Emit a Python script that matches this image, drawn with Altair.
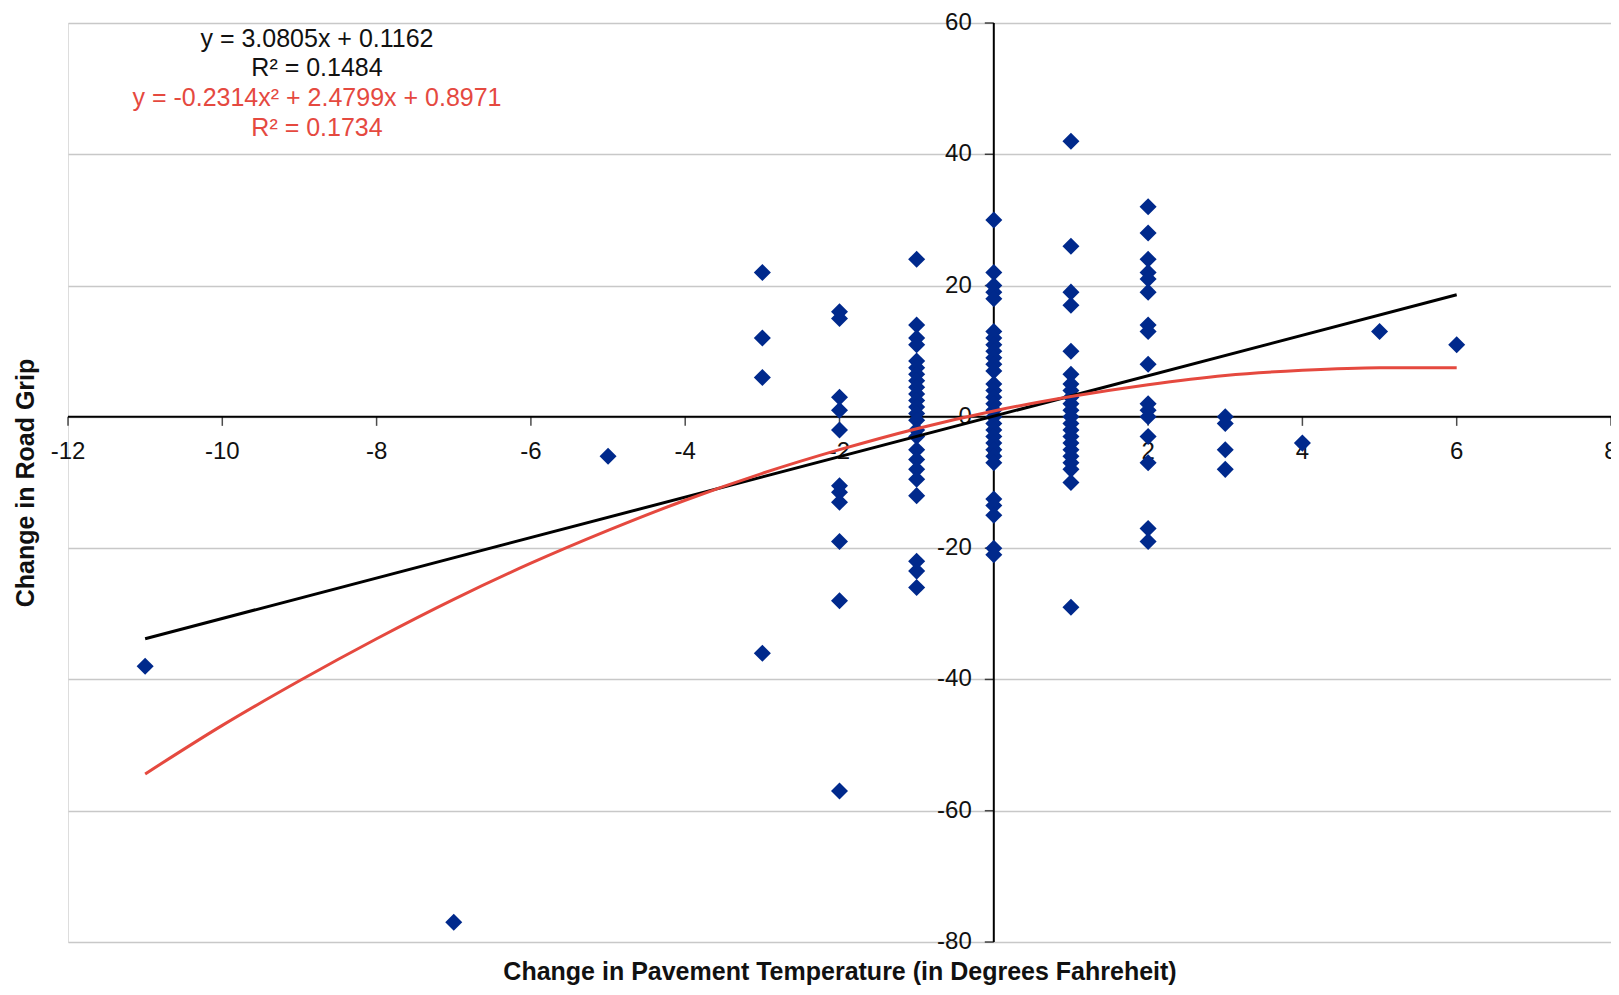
import altair as alt
import pandas as pd

# ---- scatter data, one list per temperature change ----
col_m11 = [-38]
col_m7 = [-77]
col_m5 = [-6]
col_m3 = [22, 12, 6, -36]
col_m2 = [16, 15, 3, 1, -2, -10.5, -11.5, -13, -19, -28, -57]
col_m1 = [24, 14, 12, 11, 8.5, 7.5, 6.5, 5.5, 4.5, 3.5, 2.5, 1.5, 0.5, -0.5, -2, -3,
          -5, -6.5, -8, -9.5, -12, -22, -23.5, -26]
col_0 = [30, 22, 20, 19, 18, 13, 12, 11, 10, 9, 8, 7, 5, 4, 3, 2, 1, 0, -1, -2, -3,
         -4, -5, -6, -7, -12.5, -13.5, -15, -20, -21]
col_1 = [42, 26, 19, 17, 10, 6.5, 5, 4, 3, 2, 1, 0, -1, -2, -3, -4, -5, -6, -7, -8,
         -10, -29]
col_2 = [32, 28, 24, 22, 21, 19, 14, 13, 8, 2, 1, 0, -3, -7, -17, -19]
col_3 = [0, -1, -5, -8]
col_4 = [-4]
col_5 = [13]
col_6 = [11]

columns = {-11: col_m11, -7: col_m7, -5: col_m5, -3: col_m3, -2: col_m2, -1: col_m1,
           0: col_0, 1: col_1, 2: col_2, 3: col_3, 4: col_4, 5: col_5, 6: col_6}

# ---- trend lines ----
lin_x = [-11, 6]
lin_y = [-33.8, 18.6]
poly_x = [-11, -10, -9, -8, -7, -6, -5, -4, -3, -2, -1, 0, 1, 2, 3, 4, 5, 6]
poly_y = [-54.4, -47.0, -40.2, -33.8, -27.8, -22.3, -17.3, -12.7, -8.6, -5.0, -1.8,
          0.9, 3.1, 4.9, 6.3, 7.1, 7.5, 7.5]

# ---- axis ticks ----
x_ticks = [-12, -10, -8, -6, -4, -2, 0, 2, 4, 6, 8]
y_ticks = [-80, -60, -40, -20, 0, 20, 40, 60]

eq_lines = ["y = 3.0805x + 0.1162", "R² = 0.1484",
            "y = -0.2314x² + 2.4799x + 0.8971", "R² = 0.1734"]

pts = pd.DataFrame([(k, v) for k, vals in columns.items() for v in vals], columns=["x", "y"])
lin = pd.DataFrame({"x": lin_x, "y": lin_y})
poly = pd.DataFrame({"x": poly_x, "y": poly_y})
xt = pd.DataFrame({"x": x_ticks, "y": [0] * len(x_ticks), "t": [str(v) for v in x_ticks]})
yt = pd.DataFrame({"x": [0] * len(y_ticks), "y": y_ticks, "t": [str(v) for v in y_ticks]})
zero = pd.DataFrame({"x": [0], "y": [0]})

FONT = "Liberation Sans"
xs = alt.Scale(domain=[-12, 8], nice=False, zero=False)
ys = alt.Scale(domain=[-80, 60], nice=False, zero=False)

xaxis = alt.Axis(title="Change in Pavement Temperature (in Degrees Fahreheit)",
                 labels=False, ticks=False, domain=False, grid=False,
                 titlePadding=17, titleFont=FONT, titleFontSize=25,
                 titleFontWeight="bold", titleColor="#111")
yaxis = alt.Axis(title="Change in Road Grip", values=y_ticks, labels=False, ticks=False,
                 domain=False, grid=True, gridColor="#c8c8c8", gridWidth=1.5,
                 titlePadding=30, titleFont=FONT, titleFontSize=25,
                 titleFontWeight="bold", titleColor="#111")

X = alt.X("x:Q", scale=xs, axis=xaxis)
Y = alt.Y("y:Q", scale=ys, axis=yaxis)

base_grid = alt.Chart(pts).mark_point(opacity=0).encode(x=X, y=Y)

hrule = alt.Chart(zero).mark_rule(color="black", strokeWidth=2).encode(y=Y)
vrule = alt.Chart(zero).mark_rule(color="black", strokeWidth=2).encode(x=X)

xtick_marks = alt.Chart(xt).mark_tick(orient="vertical", size=9, thickness=1.5,
                                      color="black", yOffset=4.5).encode(x=X, y=Y)
ytick_marks = alt.Chart(yt).mark_tick(orient="horizontal", size=9, thickness=1.5,
                                      color="black", xOffset=-4.5).encode(x=X, y=Y)

xlabels = alt.Chart(xt).mark_text(dy=35, align="center", baseline="middle", font=FONT,
                                  fontSize=24, color="#111").encode(x=X, y=Y, text="t:N")
ylabels = alt.Chart(yt).mark_text(dx=-22, align="right", baseline="middle", font=FONT,
                                  fontSize=24, color="#111").encode(x=X, y=Y, text="t:N")

points = alt.Chart(pts).mark_point(shape="diamond", filled=True, size=290, opacity=1,
                                   color="#00298C").encode(x=X, y=Y)

lin_line = alt.Chart(lin).mark_line(color="black", strokeWidth=3).encode(x=X, y=Y)
poly_line = alt.Chart(poly).mark_line(color="#E5493F", strokeWidth=3,
                                      interpolate="monotone").encode(x=X, y=Y)

eq_colors = ["#111", "#111", "#E5493F", "#E5493F"]
eq_y = [16, 45, 75, 105]
eq_layers = [
    alt.Chart(zero).mark_text(text=t, font=FONT, fontSize=25, color=c, align="center",
                              baseline="middle").encode(x=alt.value(249), y=alt.value(yy))
    for t, c, yy in zip(eq_lines, eq_colors, eq_y)
]

chart = alt.layer(
    base_grid, hrule, vrule, xtick_marks, ytick_marks, xlabels, ylabels,
    points, lin_line, poly_line, *eq_layers
).properties(
    width=1543, height=919,
    autosize=alt.AutoSizeParams(type="none"),
    padding={"left": 60, "top": 15, "right": 0, "bottom": 45},
).configure_view(stroke="#999", strokeWidth=2).configure(background="white")

chart.save("out.html", embed_options={"renderer": "svg", "actions": False})
